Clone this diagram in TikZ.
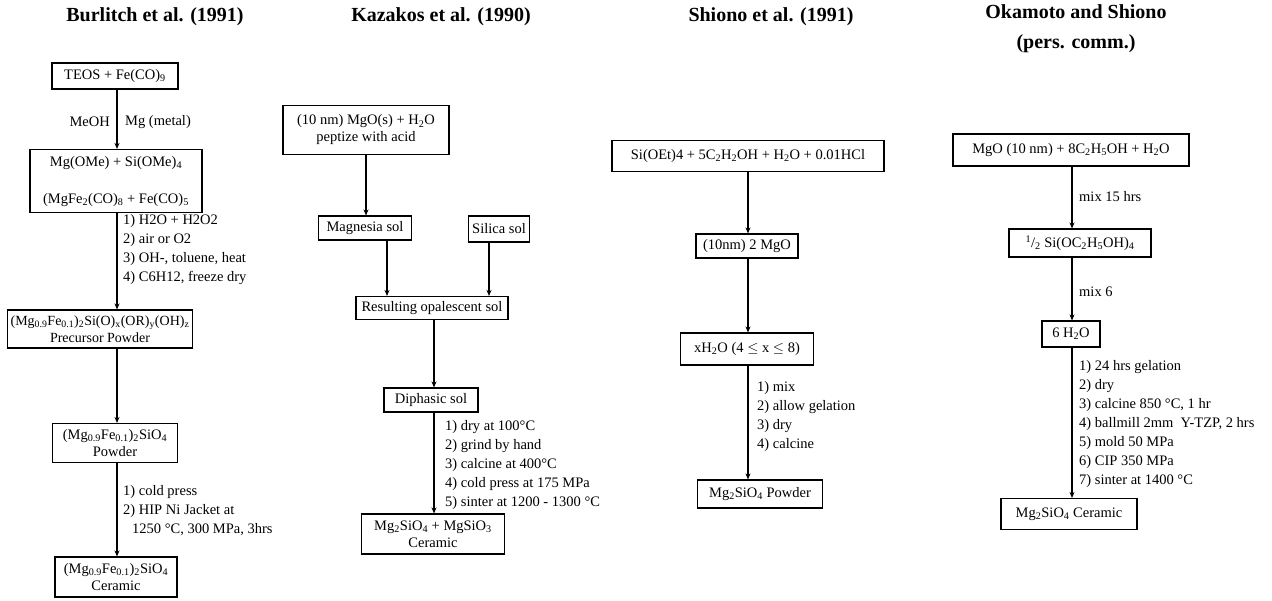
\documentclass[tikz,border=0pt]{standalone}
\usepackage{fontspec}
\setmainfont{Liberation Serif}
\usetikzlibrary{arrows.meta}
\newcommand{\sbs}[1]{\textsubscript{#1}}
\begin{document}
\begin{tikzpicture}[x=1pt,y=-1pt,
    box/.style={draw,line width=1.1pt,inner sep=0pt,align=center,
      font=\fontsize{14.5}{17}\selectfont},
    wh/.style 2 args={minimum width=#1,minimum height=#2},
    hdr/.style={font=\fontsize{20}{30}\selectfont\bfseries,align=center},
    steps/.style={anchor=west,align=left,inner sep=0pt,
      font=\fontsize{14.5}{19}\selectfont},
    flow/.style={->,>={Stealth[length=6pt,width=5pt]},line width=1.2pt}]
  \useasboundingbox (0,0) rectangle (1272,601);
  % titles
  \node[hdr] (t1) at (155,17) {Burlitch et al. (1991)};
  \node[hdr] (t2) at (441,17) {Kazakos et al. (1990)};
  \node[hdr] (t3) at (771,17) {Shiono et al. (1991)};
  \node[hdr] (t4) at (1076,29) {Okamoto and Shiono\\(pers. comm.)};
  % Burlitch
  \node[box,wh={126}{26}] (teos) at (115,76) {TEOS + Fe(CO)\sbs{9}};
  \node[box,wh={172}{63}] (mgome) at (116,181)
    {\\[-6pt]Mg(OMe) + Si(OMe)\sbs{4}\\[20pt](MgFe\sbs{2}(CO)\sbs{8} + Fe(CO)\sbs{5}};
  \node[box,wh={185}{38},font=\fontsize{14}{17}\selectfont] (prec) at (100,329)
    {(Mg\sbs{0.9}Fe\sbs{0.1})\sbs{2}Si(O)\sbs{x}(OR)\sbs{y}(OH)\sbs{z}\\Precursor Powder};
  \node[box,wh={125}{39}] (pwd) at (115,443)
    {(Mg\sbs{0.9}Fe\sbs{0.1})\sbs{2}SiO\sbs{4}\\Powder};
  \node[box,wh={122}{40}] (cer1) at (116,577)
    {(Mg\sbs{0.9}Fe\sbs{0.1})\sbs{2}SiO\sbs{4}\\Ceramic};
  \node[steps,anchor=east] (meoh) at (110,122) {MeOH};
  \node[steps] (mgmet) at (125,122) {Mg (metal)};
  \node[steps] (s1a) at (123,250)
    {1) H2O + H2O2\\2) air or O2\\3) OH-, toluene, heat\\4) C6H12, freeze dry};
  \node[steps] (s1b) at (123,511)
    {1) cold press\\2) HIP Ni Jacket at\\\hspace{9pt}1250 °C, 300 MPa, 3hrs};
  % Kazakos
  \node[box,wh={166}{49}] (mgo) at (366,130)
    {(10 nm) MgO(s) + H\sbs{2}O\\peptize with acid};
  \node[box,wh={93}{24}] (magsol) at (365,228) {Magnesia sol};
  \node[box,wh={61}{26}] (silsol) at (499,229) {Silica sol};
  \node[box,wh={152}{23}] (opal) at (432,308) {Resulting opalescent sol};
  \node[box,wh={94}{24}] (diph) at (431,400) {Diphasic sol};
  \node[box,wh={143}{40}] (cer2) at (433,534)
    {Mg\sbs{2}SiO\sbs{4} + MgSiO\sbs{3}\\Ceramic};
  \node[steps] (s2) at (445,465)
    {1) dry at 100°C\\2) grind by hand\\3) calcine at 400°C\\4) cold press at 175 MPa\\5) sinter at 1200 - 1300 °C};
  % Shiono
  \node[box,wh={272}{31}] (sioet) at (748,156)
    {Si(OEt)4 + 5C\sbs{2}H\sbs{2}OH + H\sbs{2}O + 0.01HCl};
  \node[box,wh={102}{24}] (mgo3) at (747,246) {(10nm) 2 MgO};
  \node[box,wh={133}{32}] (xh2o) at (747,349)
    {xH\sbs{2}O (4 $\leq$ x $\leq$ 8)};
  \node[box,wh={125}{28}] (pwd3) at (760,494) {Mg\sbs{2}SiO\sbs{4} Powder};
  \node[steps] (s3) at (757,417)
    {1) mix\\2) allow gelation\\3) dry\\4) calcine};
  % Okamoto and Shiono
  \node[box,wh={236}{32}] (mgo4) at (1071,150)
    {MgO (10 nm) + 8C\sbs{2}H\sbs{5}OH + H\sbs{2}O};
  \node[box,wh={142}{28}] (half) at (1080,243)
    {\textsuperscript{1}/\sbs{2} Si(OC\sbs{2}H\sbs{5}OH)\sbs{4}};
  \node[box,wh={58}{26}] (h2o6) at (1071,334) {6 H\sbs{2}O};
  \node[box,wh={136}{31}] (cer4) at (1069,514) {Mg\sbs{2}SiO\sbs{4} Ceramic};
  \node[steps] (mix15) at (1079,197) {mix 15 hrs};
  \node[steps] (mix6) at (1079,292) {mix 6};
  \node[steps] (s4) at (1079,424)
    {1) 24 hrs gelation\\2) dry\\3) calcine 850 °C, 1 hr\\4) ballmill 2mm\ \ Y-TZP, 2 hrs\\5) mold 50 MPa\\6) CIP 350 MPa\\7) sinter at 1400 °C};
  % arrow columns
  \coordinate (c1) at (117,0);
  \coordinate (k1) at (387,0);
  \coordinate (k2) at (489,0);
  \coordinate (k3) at (434,0);
  \coordinate (c3) at (748,0);
  \coordinate (c4) at (1072,0);
  \begin{scope}[flow]
    \draw (teos.south -| c1) to (mgome.north -| c1);
    \draw (mgome.south -| c1) to (prec.north -| c1);
    \draw (prec.south -| c1) to (pwd.north -| c1);
    \draw (pwd.south -| c1) to (cer1.north -| c1);
    \draw (mgo.south) to (mgo.south |- magsol.north);
    \draw (magsol.south -| k1) to (opal.north -| k1);
    \draw (silsol.south -| k2) to (opal.north -| k2);
    \draw (opal.south -| k3) to (diph.north -| k3);
    \draw (diph.south -| k3) to (cer2.north -| k3);
    \draw (sioet.south -| c3) to (mgo3.north -| c3);
    \draw (mgo3.south -| c3) to (xh2o.north -| c3);
    \draw (xh2o.south -| c3) to (pwd3.north -| c3);
    \draw (mgo4.south -| c4) to (half.north -| c4);
    \draw (half.south -| c4) to (h2o6.north -| c4);
    \draw (h2o6.south -| c4) to (cer4.north -| c4);
  \end{scope}
\end{tikzpicture}
\end{document}
